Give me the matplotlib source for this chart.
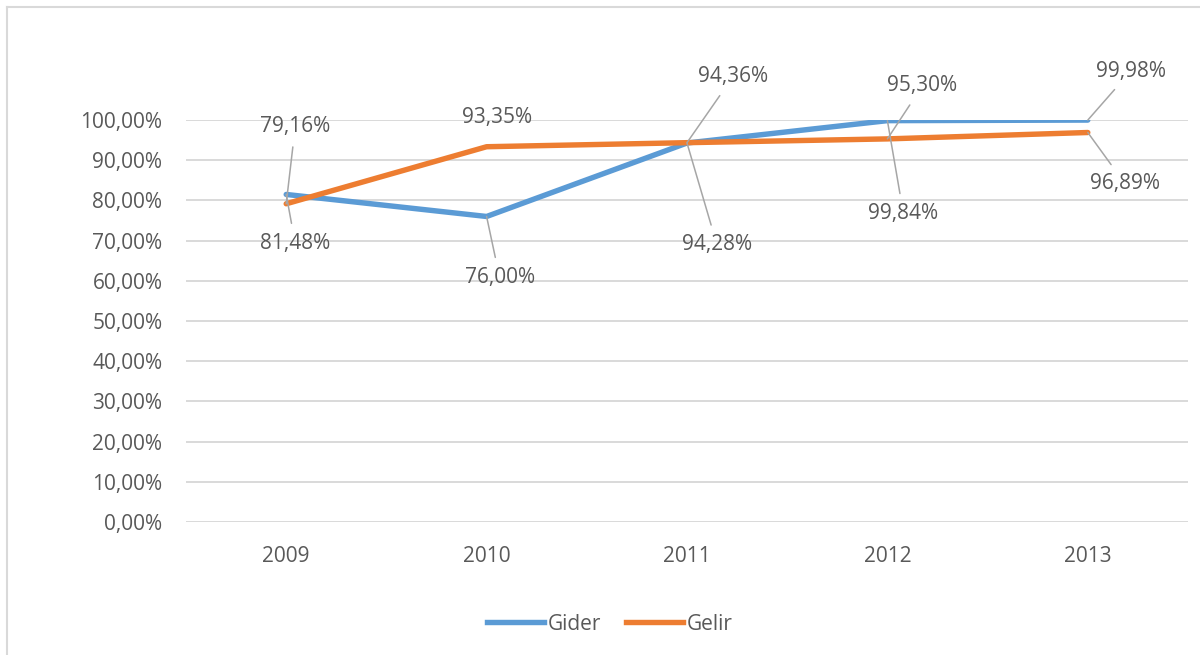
import matplotlib
matplotlib.use("Agg")
import matplotlib.pyplot as plt
from matplotlib.lines import Line2D

plt.rcParams['font.family'] = ['Open Sans', 'DejaVu Sans']

years = ['2009', '2010', '2011', '2012', '2013']
gider = [81.48, 76.00, 94.28, 99.84, 99.98]
gelir = [79.16, 93.35, 94.36, 95.30, 96.89]
yticks = [0, 10, 20, 30, 40, 50, 60, 70, 80, 90, 100]

# label offsets in pixels (text centre relative to the point), leader line on/off
gider_off = [(9, -49), (13, -61), (30, -102), (16, -93), (43, 49)]
gider_lead = [True, True, True, True, True]
gelir_off = [(9, 77), (10, 29), (46, 66), (35, 53), (37, -51)]
gelir_lead = [True, False, True, True, True]

blue = '#5B9BD5'
orange = '#ED7D31'
txtcol = '#595959'
gridcol = '#D9D9D9'

fig = plt.figure(figsize=(12, 6.55), dpi=100)
ax = fig.add_axes([186 / 1200, 1 - 522 / 655, 1002 / 1200, 402 / 655])

x = list(range(len(years)))
ax.plot(x, gider, color=blue, lw=3.9, solid_capstyle='round', zorder=3)
ax.plot(x, gelir, color=orange, lw=3.9, solid_capstyle='round', zorder=3)

def fmt(v):
    return ('%.2f%%' % v).replace('.', ',')

def labels(vals, offs, leads):
    for i, v in enumerate(vals):
        kw = dict(xy=(i, v), xytext=offs[i], textcoords='offset pixels',
                  ha='center', va='center', fontsize=15, color=txtcol, zorder=5)
        if leads[i]:
            kw['arrowprops'] = dict(arrowstyle='-', color='#A6A6A6', lw=1.1,
                                    shrinkA=5, shrinkB=0)
        ax.annotate(fmt(v), **kw)

labels(gider, gider_off, gider_lead)
labels(gelir, gelir_off, gelir_lead)

ax.set_xlim(-0.5, len(years) - 0.5)
ax.set_ylim(0, 100)
ax.set_yticks(yticks)
ax.set_yticklabels([fmt(t) for t in yticks])
ax.set_xticks(x)
ax.set_xticklabels(years)
ax.tick_params(axis='both', length=0, labelsize=15, labelcolor=txtcol)
ax.tick_params(axis='y', pad=17)
ax.tick_params(axis='x', pad=17)
ax.grid(axis='y', color=gridcol, lw=1.4)
ax.set_axisbelow(True)
for s in ax.spines.values():
    s.set_visible(False)

handles = [Line2D([], [], color=blue, lw=3.9), Line2D([], [], color=orange, lw=3.9)]
fig.legend(handles, ['Gider', 'Gelir'], loc='center', bbox_to_anchor=(610 / 1200, 1 - 624 / 655),
           ncol=2, frameon=False, fontsize=15, labelcolor=txtcol,
           handlelength=2.7, handletextpad=0.2, columnspacing=1.2)

# outer chart border (top and left visible)
fig.add_artist(Line2D([7 / 1200, 1], [1 - 7 / 655, 1 - 7 / 655], color=gridcol, lw=1.5))
fig.add_artist(Line2D([7 / 1200, 7 / 1200], [0, 1 - 7 / 655], color=gridcol, lw=1.5))

fig.savefig('out.png', dpi=100, facecolor='white')
